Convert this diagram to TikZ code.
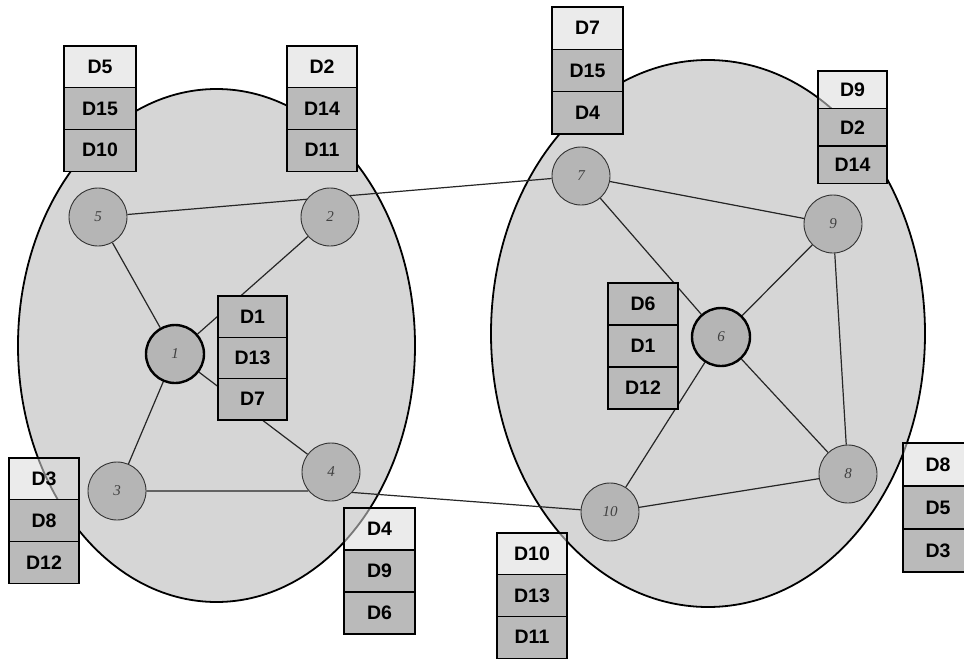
\documentclass[tikz,border=0pt]{standalone}
\usepackage{fontspec}
\setmainfont{Liberation Sans}
\newfontfamily\numfont{Liberation Serif}
\pgfdeclarelayer{bg}
\pgfdeclarelayer{edges}
\pgfsetlayers{bg,edges,main}
\definecolor{regiongray}{gray}{0.84}
\definecolor{peergray}{gray}{0.71}
\definecolor{cellgray}{gray}{0.73}
\definecolor{lightgray}{gray}{0.86}
\tikzset{
 region/.style={fill=regiongray, draw=black, line width=1.8pt},
 peer/.style={circle, fill=peergray, draw=black!80, line width=0.9pt, minimum size=58pt, inner sep=0pt, font=\numfont\itshape\fontsize{15}{15}\selectfont, text=black!75},
 superpeer/.style={peer, line width=2.4pt, draw=black},
 link/.style={draw=black!85, line width=1.2pt},
 cell/.style={draw=black, line width=1.2pt, inner sep=0pt, outer sep=0pt, font=\bfseries\fontsize{19.5}{19.5}\selectfont},
 lightcell/.style={cell, fill=lightgray, fill opacity=0.55, text opacity=1, draw opacity=1},
 darkcell/.style={cell, fill=cellgray},
}
% name, x, y, width, cell height, top style, labels
\newcommand{\dtab}[9]{%
 \node[#6, anchor=north west, minimum width=#4pt, minimum height=#5pt] (#1a) at (#2,#3) {#7};
 \node[darkcell, anchor=north, minimum width=#4pt, minimum height=#5pt] (#1b) at (#1a.south) {#8};
 \node[darkcell, anchor=north, minimum width=#4pt, minimum height=#5pt] (#1c) at (#1b.south) {#9};}
\begin{document}
\begin{tikzpicture}[x=1pt, y=-1pt]
\useasboundingbox (0,0) rectangle (964,659);
\clip (0,0) rectangle (964,659);
\begin{pgfonlayer}{bg}
 \fill[white] (0,0) rectangle (964,659);
 \draw[region] (216.5,345.5) ellipse [x radius=198.5pt, y radius=256.5pt];
 \draw[region] (708,333.5) ellipse [x radius=217pt, y radius=273.5pt];
\end{pgfonlayer}
% peers
\node[superpeer] (n1) at (175,354) {1};
\node[peer] (n2) at (330,217) {2};
\node[peer] (n3) at (117,491) {3};
\node[peer] (n4) at (331,472) {4};
\node[peer] (n5) at (98,217) {5};
\node[superpeer] (n6) at (721,337) {6};
\node[peer] (n7) at (581,176) {7};
\node[peer] (n8) at (848,474) {8};
\node[peer] (n9) at (833,224) {9};
\node[peer] (n10) at (610,512) {10};
% links
\begin{pgfonlayer}{edges}
 \draw[link] (n5) -- (n7);
 \draw[link] (n5) -- (n1);
 \draw[link] (n2) -- (n1);
 \draw[link] (n1) -- (n3);
 \draw[link] (n1) -- (n4);
 \draw[link] (n3) -- (n4.-140);
 \draw[link] (n4.-44) -- (n10);
 \draw[link] (n7) -- (n9);
 \draw[link] (n7) -- (n6);
 \draw[link] (n9) -- (n6);
 \draw[link] (n9) -- (n8);
 \draw[link] (n6) -- (n8);
 \draw[link] (n6) -- (n10);
 \draw[link] (n10) -- (n8);
\end{pgfonlayer}
% data tables
\dtab{tA}{64}{46}{72}{41.7}{lightcell}{D5}{D15}{D10}
\dtab{tB}{287}{46}{70}{41.7}{lightcell}{D2}{D14}{D11}
\dtab{tC}{218}{296}{69}{41.3}{darkcell}{D1}{D13}{D7}
\dtab{tD}{9}{458}{70}{41.7}{lightcell}{D3}{D8}{D12}
\dtab{tE}{344}{508}{71}{42}{lightcell}{D4}{D9}{D6}
\dtab{tF}{552}{7}{71}{42.3}{lightcell}{D7}{D15}{D4}
\dtab{tG}{818}{71}{69}{37.5}{lightcell}{D9}{D2}{D14}
\dtab{tH}{608}{283}{70}{42}{darkcell}{D6}{D1}{D12}
\dtab{tI}{497}{533}{70}{41.7}{lightcell}{D10}{D13}{D11}
\dtab{tJ}{903}{443}{70}{43}{lightcell}{D8}{D5}{D3}
\end{tikzpicture}
\end{document}
